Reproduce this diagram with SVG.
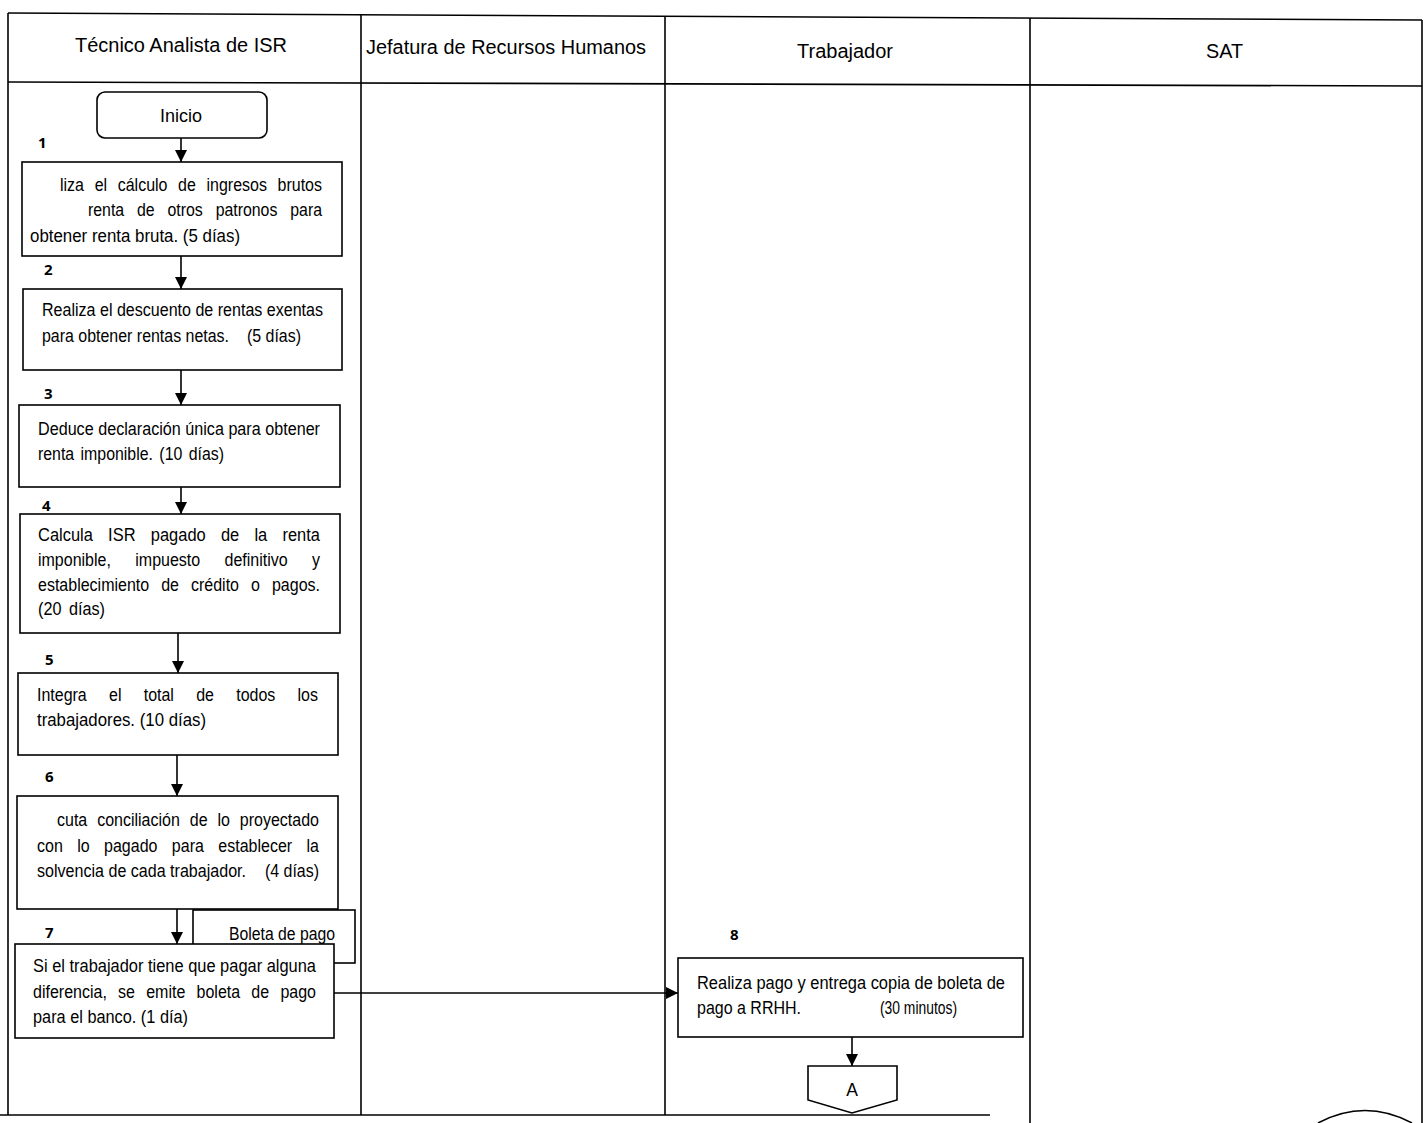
<svg xmlns="http://www.w3.org/2000/svg" width="1426" height="1123" viewBox="0 0 1426 1123">
<style>
.lane{stroke:#000;stroke-width:1.6;fill:none}
.box{fill:#fff;stroke:#000;stroke-width:1.6}
.t{font-family:"Liberation Sans",Arial,sans-serif;font-size:17.5px;fill:#000}
.h{font-family:"Liberation Sans",Arial,sans-serif;font-size:20px;fill:#000}
.n{font-family:"Open Sans","Liberation Sans",sans-serif;font-size:15px;font-weight:bold;fill:#000}
.c{stroke:#000;stroke-width:1.6;fill:none}
</style>
<defs>
<marker id="ah" viewBox="0 0 10 10" refX="10" refY="5" markerWidth="13" markerHeight="12" markerUnits="userSpaceOnUse" orient="auto"><path d="M0,0 L10,5 L0,10 z" fill="#000"/></marker>
</defs>
<rect width="1426" height="1123" fill="#fff"/>
<g id="lanes">
<line class="lane" x1="8" y1="13" x2="1422" y2="20"/>
<line class="lane" x1="8" y1="82" x2="1422" y2="86"/>
<line class="lane" x1="0" y1="1115" x2="990" y2="1115"/>
<line class="lane" x1="8" y1="13" x2="8" y2="1115"/>
<line class="lane" x1="361" y1="15" x2="361" y2="1115"/>
<line class="lane" x1="665" y1="16" x2="665" y2="1115"/>
<line class="lane" x1="1030" y1="18" x2="1030" y2="1123"/>
<line class="lane" x1="1422" y1="20" x2="1422" y2="1123"/>
<path class="lane" d="M1318,1123 Q1365,1098 1412,1123"/>
<text class="h" x="75" y="52" textLength="212" lengthAdjust="spacingAndGlyphs">Técnico Analista de ISR</text>
<text class="h" x="366" y="54" textLength="280" lengthAdjust="spacingAndGlyphs">Jefatura de Recursos Humanos</text>
<text class="h" x="797" y="58" textLength="96" lengthAdjust="spacingAndGlyphs">Trabajador</text>
<text class="h" x="1206" y="58" textLength="37" lengthAdjust="spacingAndGlyphs">SAT</text>
</g>
<g id="connectors">
<line class="c" x1="181" y1="137" x2="181" y2="162" marker-end="url(#ah)"/>
<line class="c" x1="181" y1="256" x2="181" y2="289" marker-end="url(#ah)"/>
<line class="c" x1="181" y1="370" x2="181" y2="405" marker-end="url(#ah)"/>
<line class="c" x1="181" y1="487" x2="181" y2="514" marker-end="url(#ah)"/>
<line class="c" x1="178" y1="633" x2="178" y2="673" marker-end="url(#ah)"/>
<line class="c" x1="177" y1="755" x2="177" y2="796" marker-end="url(#ah)"/>
<line class="c" x1="177" y1="909" x2="177" y2="944" marker-end="url(#ah)"/>
<line class="c" x1="334" y1="993" x2="678" y2="993" marker-end="url(#ah)"/>
<line class="c" x1="852" y1="1037" x2="852" y2="1066" marker-end="url(#ah)"/>
</g>
<g id="inicio">
<rect class="box" x="97" y="92" width="170" height="46" rx="8"/>
<text class="t" x="160" y="122" font-size="18" textLength="42" lengthAdjust="spacingAndGlyphs">Inicio</text>
</g>
<g id="step1">
<text class="n" x="38" y="148">1</text>
<rect class="box" x="22" y="162" width="320" height="94"/>
<text class="t" x="60" y="191" style="word-spacing:6.8px" textLength="262" lengthAdjust="spacingAndGlyphs">liza el cálculo de ingresos brutos</text>
<text class="t" x="88" y="216" style="word-spacing:9.3px" textLength="234" lengthAdjust="spacingAndGlyphs">renta de otros patronos para</text>
<text class="t" x="30" y="242" textLength="210" lengthAdjust="spacingAndGlyphs">obtener renta bruta. (5 días)</text>
</g>
<g id="step2">
<text class="n" x="44" y="275">2</text>
<rect class="box" x="23" y="289" width="319" height="81"/>
<text class="t" x="42" y="316" textLength="281" lengthAdjust="spacingAndGlyphs">Realiza el descuento de rentas exentas</text>
<text class="t" y="342"><tspan x="42" textLength="187" lengthAdjust="spacingAndGlyphs">para obtener rentas netas.</tspan><tspan x="247" textLength="54" lengthAdjust="spacingAndGlyphs">(5 días)</tspan></text>
</g>
<g id="step3">
<text class="n" x="44" y="399">3</text>
<rect class="box" x="19" y="405" width="321" height="82"/>
<text class="t" x="38" y="435" textLength="282" lengthAdjust="spacingAndGlyphs">Deduce declaración única para obtener</text>
<text class="t" x="38" y="460" style="word-spacing:2.2px" textLength="186" lengthAdjust="spacingAndGlyphs">renta imponible.  (10 días)</text>
</g>
<g id="step4">
<text class="n" x="42" y="511">4</text>
<rect class="box" x="20" y="514" width="320" height="119"/>
<text class="t" x="38" y="541" style="word-spacing:11.3px" textLength="282" lengthAdjust="spacingAndGlyphs">Calcula ISR pagado de la renta</text>
<text class="t" x="38" y="566" style="word-spacing:21.8px" textLength="282" lengthAdjust="spacingAndGlyphs">imponible, impuesto definitivo y</text>
<text class="t" x="38" y="591" style="word-spacing:8.3px" textLength="282" lengthAdjust="spacingAndGlyphs">establecimiento de crédito o pagos.</text>
<text class="t" x="38" y="615" style="word-spacing:3.3px" textLength="67" lengthAdjust="spacingAndGlyphs">(20 días)</text>
</g>
<g id="step5">
<text class="n" x="45" y="665">5</text>
<rect class="box" x="18" y="673" width="320" height="82"/>
<text class="t" x="37" y="701" style="word-spacing:19.5px" textLength="281" lengthAdjust="spacingAndGlyphs">Integra el total de todos los</text>
<text class="t" x="37" y="726" textLength="169" lengthAdjust="spacingAndGlyphs">trabajadores.  (10 días)</text>
</g>
<g id="boleta">
<rect class="box" x="193" y="910" width="162" height="53"/>
<text class="t" x="229" y="940" textLength="106" lengthAdjust="spacingAndGlyphs">Boleta de pago</text>
</g>
<g id="step6">
<text class="n" x="45" y="782">6</text>
<rect class="box" x="17" y="796" width="321" height="113"/>
<text class="t" x="57" y="826" style="word-spacing:6px" textLength="262" lengthAdjust="spacingAndGlyphs">cuta conciliación de lo proyectado</text>
<text class="t" x="37" y="852" style="word-spacing:10.9px" textLength="282" lengthAdjust="spacingAndGlyphs">con lo pagado para establecer  la</text>
<text class="t" y="877"><tspan x="37" textLength="209" lengthAdjust="spacingAndGlyphs">solvencia de cada trabajador.</tspan><tspan x="265" textLength="54" lengthAdjust="spacingAndGlyphs">(4 días)</tspan></text>
</g>
<g id="step7">
<text class="n" x="45" y="938">7</text>
<rect class="box" x="15" y="944" width="319" height="94"/>
<text class="t" x="33" y="972" textLength="283" lengthAdjust="spacingAndGlyphs">Si el trabajador tiene que pagar alguna</text>
<text class="t" x="33" y="998" style="word-spacing:7.4px" textLength="283" lengthAdjust="spacingAndGlyphs">diferencia, se emite boleta de pago</text>
<text class="t" x="33" y="1023" textLength="155" lengthAdjust="spacingAndGlyphs">para el banco.  (1 día)</text>
</g>
<g id="step8">
<text class="n" x="730" y="940">8</text>
<rect class="box" x="678" y="958" width="345" height="79"/>
<text class="t" x="697" y="989" textLength="308" lengthAdjust="spacingAndGlyphs">Realiza pago y entrega copia de boleta de</text>
<text class="t" y="1014"><tspan x="697" textLength="104" lengthAdjust="spacingAndGlyphs">pago a RRHH.</tspan><tspan x="880" textLength="77" lengthAdjust="spacingAndGlyphs">(30 minutos)</tspan></text>
</g>
<g id="connectorA">
<path class="box" d="M808,1066 H897 V1100 L852,1113 L808,1100 Z"/>
<text class="t" x="852" y="1096" text-anchor="middle" font-size="18">A</text>
</g>
</svg>
